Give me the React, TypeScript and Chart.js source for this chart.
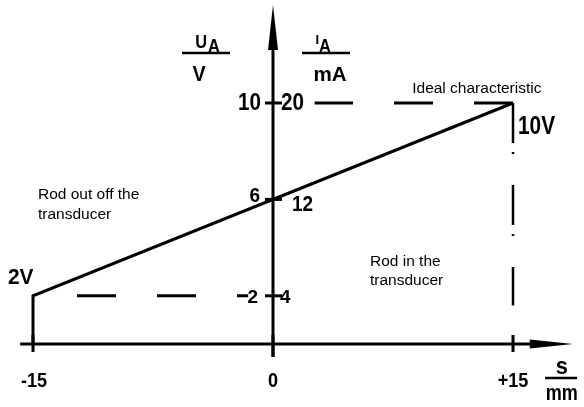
import React, { useEffect, useRef } from "react";
import { Chart, registerables } from "chart.js";

Chart.register(...registerables);

// ---- data ----
const xTickValues = [-15, 0, 15];
const xTickLabels = ["-15", "0", "+15"];
const voltageTickValues = [10, 6, 2];
const voltageLabels = ["10", "6", "2"];
const currentLabels = ["20", "12", "4"];

const characteristicS = [-15, -15, 15];
const characteristicU = [0, 2, 10];

const idealTopS = [15, 2.6];
const idealTopU = [10, 10];
const idealBottomS = [-12.25, -1.55];
const idealBottomU = [2, 2];
const limitS = [15, 15];
const limitU = [10, 1.6];

const xAxisS = [-15.8, 16.1];
const yAxisU = [-0.54, 12.4];

const endLabels = ["2V", "10V"];
const notes = ["Ideal characteristic", "Rod out off the", "transducer", "Rod in the", "transducer"];

const BOLD = '"Liberation Sans", Arial, sans-serif';
const REG = '"Liberation Sans", Arial, sans-serif';

const pts = (xs: number[], ys: number[]) => xs.map((x, i) => ({ x, y: ys[i] }));

// bold, horizontally condensed text (the drawing uses a narrow DIN-like lettering)
function bt(ctx: any, s: string, x: number, y: number, size: number, align: string, sx = 0.86) {
  ctx.save();
  ctx.font = `bold ${size}px ${BOLD}`;
  ctx.textAlign = "left";
  const w = ctx.measureText(s).width * sx;
  const left = align === "left" ? x : align === "right" ? x - w : x - w / 2;
  ctx.translate(left, y);
  ctx.scale(sx, 1);
  ctx.fillText(s, 0, 0);
  ctx.restore();
}

const decor = {
  id: "decor",
  afterDatasetsDraw(chart: any) {
    const { ctx, scales } = chart;
    const X = (v: number) => scales.x.getPixelForValue(v);
    const Y = (v: number) => scales.y.getPixelForValue(v);
    const x0 = X(0);
    const y0 = Y(0);
    ctx.save();
    ctx.fillStyle = "#000";
    ctx.strokeStyle = "#000";

    // arrowheads
    const yTip = Y(14.07);
    const yBase = Y(12.2);
    ctx.beginPath();
    ctx.moveTo(x0, yTip);
    ctx.lineTo(x0 + 5, yBase);
    ctx.lineTo(x0 - 5, yBase);
    ctx.closePath();
    ctx.fill();
    const xTip = X(18.75);
    const xBase = X(16.05);
    ctx.beginPath();
    ctx.moveTo(xTip, y0);
    ctx.lineTo(xBase, y0 - 4.5);
    ctx.lineTo(xBase, y0 + 4.5);
    ctx.closePath();
    ctx.fill();

    // ticks
    ctx.lineWidth = 3;
    ctx.lineCap = "butt";
    voltageTickValues.forEach((v) => {
      const yy = Y(v);
      ctx.beginPath();
      ctx.moveTo(x0 - 8, yy);
      ctx.lineTo(x0 + 9, yy);
      ctx.stroke();
    });
    xTickValues.forEach((v) => {
      const xx = X(v);
      ctx.beginPath();
      ctx.moveTo(xx, y0 - 9);
      ctx.lineTo(xx, y0 + (v === 0 ? 13 : 8));
      ctx.stroke();
    });

    ctx.textBaseline = "middle";
    // left (voltage) labels
    const leftSize = [24, 20, 19];
    const leftSx = [0.86, 0.95, 1];
    const leftDx = [-12, -13, -15];
    const leftDy = [0, -3, 2];
    voltageTickValues.forEach((v, i) => {
      bt(ctx, voltageLabels[i], x0 + leftDx[i], Y(v) + leftDy[i], leftSize[i], "right", leftSx[i]);
    });
    // right (current) labels
    const rightSize = [24, 22, 19];
    const rightSx = [0.86, 0.86, 1];
    const rightDx = [8, 19, 7];
    const rightDy = [0, 6, 2];
    voltageTickValues.forEach((v, i) => {
      bt(ctx, currentLabels[i], x0 + rightDx[i], Y(v) + rightDy[i], rightSize[i], "left", rightSx[i]);
    });
    // x labels
    xTickValues.forEach((v, i) => {
      bt(ctx, xTickLabels[i], X(v) + (i === 0 ? 1 : 0), y0 + 37, 21, "center");
    });

    // axis titles
    const fracY = Y(12.07);
    ctx.lineWidth = 2.5;
    ctx.beginPath();
    ctx.moveTo(x0 - 91, fracY);
    ctx.lineTo(x0 - 43, fracY);
    ctx.moveTo(x0 + 29, fracY);
    ctx.lineTo(x0 + 77, fracY);
    ctx.stroke();
    ctx.textBaseline = "alphabetic";
    bt(ctx, "U", x0 - 66, fracY - 5, 19, "right");
    bt(ctx, "A", x0 - 65, fracY - 1, 19, "left");
    bt(ctx, "I", x0 + 46, fracY - 9, 13, "right", 1);
    bt(ctx, "A", x0 + 46, fracY - 1, 19, "left");
    ctx.textBaseline = "middle";
    bt(ctx, "V", x0 - 74, fracY + 22, 22, "center", 0.9);
    bt(ctx, "mA", x0 + 57, fracY + 22, 21, "center", 0.98);
    // s / mm
    const sY = y0 + 34;
    ctx.beginPath();
    ctx.moveTo(X(17.0), sY);
    ctx.lineTo(X(19.0), sY);
    ctx.stroke();
    bt(ctx, "s", X(18.05), sY - 10, 23, "center", 0.95);
    bt(ctx, "mm", X(18.05), sY + 16, 22, "center", 0.82);

    // end labels
    bt(ctx, endLabels[0], X(-15) - 25, Y(2) - 18, 22, "left", 0.95);
    bt(ctx, endLabels[1], X(15) + 5, Y(10) + 24, 26, "left", 0.8);

    // notes
    ctx.font = `15.5px ${REG}`;
    ctx.textAlign = "left";
    ctx.fillText(notes[0], X(8.7), Y(10) - 14);
    ctx.fillText(notes[1], X(-14.69), Y(6.2));
    ctx.fillText(notes[2], X(-14.69), Y(5.37));
    ctx.fillText(notes[3], X(6.06), Y(3.4));
    ctx.fillText(notes[4], X(6.06), Y(2.63));

    ctx.restore();
  },
};

export default function App() {
  const ref = useRef<HTMLCanvasElement | null>(null);
  useEffect(() => {
    if (!ref.current) return;
    const line = (data: any, extra: any = {}) => ({
      data,
      showLine: true,
      borderColor: "#000",
      borderWidth: 3,
      pointRadius: 0,
      fill: false,
      tension: 0,
      clip: false,
      borderCapStyle: "butt",
      borderJoinStyle: "miter",
      ...extra,
    });
    const chart = new Chart(ref.current, {
      type: "scatter",
      data: {
        datasets: [
          line(pts(xAxisS, [0, 0])),
          line(pts([0, 0], yAxisU)),
          line(pts(characteristicS, characteristicU)),
          line(pts(idealTopS, idealTopU), { borderDash: [39, 41] }),
          line(pts(idealBottomS, idealBottomU), { borderDash: [39, 41] }),
          line(pts(limitS, limitU), { borderDash: [40, 9, 2, 31], borderWidth: 2.5 }),
        ] as any,
      },
      options: {
        responsive: false,
        animation: false,
        events: [],
        layout: { padding: 0 },
        plugins: { legend: { display: false }, tooltip: { enabled: false } },
        scales: {
          x: { type: "linear", min: -17.0625, max: 19.4375, display: false },
          y: { type: "linear", min: -2.614, max: 14.274, display: false },
        },
      },
      plugins: [decor],
    });
    return () => chart.destroy();
  }, []);
  return (
    <div style={{ position: "fixed", left: 0, top: 0, width: 584, height: 407, background: "#fff" }}>
      <canvas ref={ref} width={584} height={407} />
    </div>
  );
}
